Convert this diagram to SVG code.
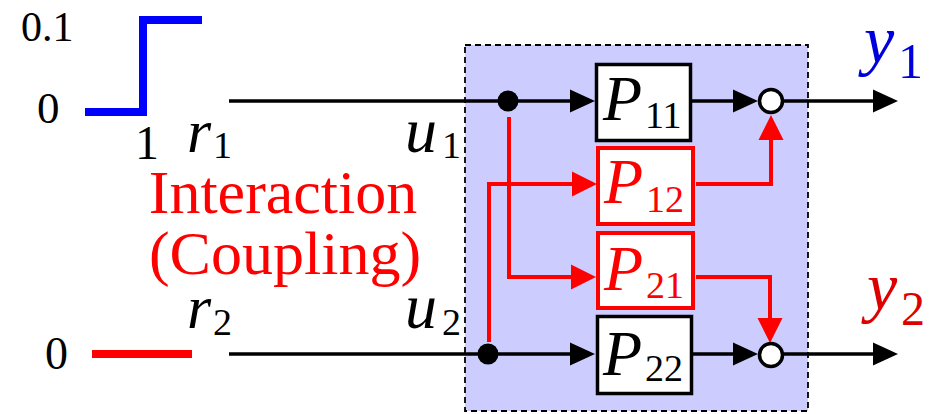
<svg xmlns="http://www.w3.org/2000/svg" width="944" height="414" viewBox="0 0 944 414">
<style>
  text{font-family:"Liberation Serif","DejaVu Serif",serif;}
  .it{font-style:italic;}
  .up{font-style:normal;}
  .k{fill:#000;}
  .r{fill:#ff0000;}
  .ln{fill:none;stroke:#000;stroke-width:3.5;}
  .lr{fill:none;stroke:#ff0000;stroke-width:4;}
  .bk{fill:#fff;stroke:#000;stroke-width:3.5;}
  .br{fill:#fff;stroke:#ff0000;stroke-width:4;}
  .sum{fill:#fff;stroke:#000;stroke-width:3.5;}
</style>
<defs>
  <marker id="aB" markerUnits="userSpaceOnUse" markerWidth="25" markerHeight="23" refX="10" refY="11.5" orient="auto" overflow="visible">
    <path d="M0,0 L25,11.5 L0,23 z" fill="#000"/>
  </marker>
  <marker id="aR" markerUnits="userSpaceOnUse" markerWidth="25" markerHeight="25" refX="10" refY="12.5" orient="auto" overflow="visible">
    <path d="M0,0 L25,12.5 L0,25 z" fill="#ff0000"/>
  </marker>
</defs>
<rect width="944" height="414" fill="#fff"/>

<g id="plant-box">
  <rect x="465" y="45" width="343" height="366" fill="#ccccff" stroke="#000" stroke-width="1.8" stroke-dasharray="6 4"/>
</g>

<g id="signals" font-family="Liberation Serif, DejaVu Serif, serif">
  <path d="M85,112 H143 V20 H202" fill="none" stroke="#0000ff" stroke-width="8"/>
  <path d="M92,354 H192" fill="none" stroke="#ff0000" stroke-width="8"/>
  <text class="k" x="21" y="41" font-size="42">0.1</text>
  <text class="k" x="37" y="123" font-size="45">0</text>
  <text class="k" x="135" y="159" font-size="48">1</text>
  <text class="k" x="45" y="369" font-size="46">0</text>
</g>

<g id="connectors">
  <path class="ln" d="M229,101 H580" marker-end="url(#aB)"/>
  <path class="ln" d="M692,101 H743" marker-end="url(#aB)"/>
  <path class="ln" d="M783,101 H883" marker-end="url(#aB)"/>
  <path class="ln" d="M229,354 H580" marker-end="url(#aB)"/>
  <path class="ln" d="M692,354 H743" marker-end="url(#aB)"/>
  <path class="ln" d="M783,354 H883" marker-end="url(#aB)"/>
  <path class="lr" d="M509,117 V277 H581" marker-end="url(#aR)"/>
  <path class="lr" d="M489,342 V184 H582" marker-end="url(#aR)"/>
  <path class="lr" d="M696,184 H771 V130" marker-end="url(#aR)"/>
  <path class="lr" d="M696,277 H770 V328" marker-end="url(#aR)"/>
</g>

<g id="labels" font-family="Liberation Serif, DejaVu Serif, serif">
  <text class="k" y="152"><tspan class="it" x="187" font-size="62">r</tspan><tspan class="up" x="213" y="158" font-size="38">1</tspan></text>
  <text class="k" y="152"><tspan class="it" x="405" font-size="64">u</tspan><tspan class="up" x="442" y="158" font-size="38">1</tspan></text>
  <text class="k" y="328"><tspan class="it" x="187" font-size="62">r</tspan><tspan class="up" x="213" y="335" font-size="38">2</tspan></text>
  <text class="k" y="328"><tspan class="it" x="405" font-size="64">u</tspan><tspan class="up" x="442" y="335" font-size="38">2</tspan></text>
  <text class="r" x="283" y="213" font-size="62" text-anchor="middle">Interaction</text>
  <text class="r" x="285" y="274" font-size="62" text-anchor="middle">(Coupling)</text>
  <text fill="#0000dd" y="63"><tspan class="it" x="864" font-size="68">y</tspan><tspan class="up" x="898" y="78" font-size="50">1</tspan></text>
  <text fill="#dd0000" y="310"><tspan class="it" x="867" font-size="68">y</tspan><tspan class="up" x="901" y="325" font-size="48">2</tspan></text>
</g>

<g id="branch-u1">
  <circle cx="508" cy="101" r="10.5" fill="#000"/>
</g>
<g id="branch-u2">
  <circle cx="488" cy="354" r="10.5" fill="#000"/>
</g>

<g id="P11" font-family="Liberation Serif, DejaVu Serif, serif">
  <rect class="bk" x="596.5" y="64.5" width="94" height="76"/>
  <text class="k" y="120"><tspan class="it" x="603" font-size="64">P</tspan><tspan class="up" x="645" y="128" font-size="38">11</tspan></text>
</g>
<g id="P12" font-family="Liberation Serif, DejaVu Serif, serif">
  <rect class="br" x="598" y="148" width="95" height="76"/>
  <text class="r" y="203"><tspan class="it" x="604" font-size="64">P</tspan><tspan class="up" x="646" y="212" font-size="38">12</tspan></text>
</g>
<g id="P21" font-family="Liberation Serif, DejaVu Serif, serif">
  <rect class="br" x="598" y="233" width="95" height="75"/>
  <text class="r" y="290"><tspan class="it" x="604" font-size="64">P</tspan><tspan class="up" x="646" y="298" font-size="38">21</tspan></text>
</g>
<g id="P22" font-family="Liberation Serif, DejaVu Serif, serif">
  <rect class="bk" x="597.5" y="316.5" width="94" height="77"/>
  <text class="k" y="375"><tspan class="it" x="603" font-size="64">P</tspan><tspan class="up" x="645" y="381" font-size="38">22</tspan></text>
</g>

<g id="sum1">
  <circle class="sum" cx="771" cy="101" r="11.5"/>
</g>
<g id="sum2">
  <circle class="sum" cx="771" cy="355" r="11.5"/>
</g>
</svg>
